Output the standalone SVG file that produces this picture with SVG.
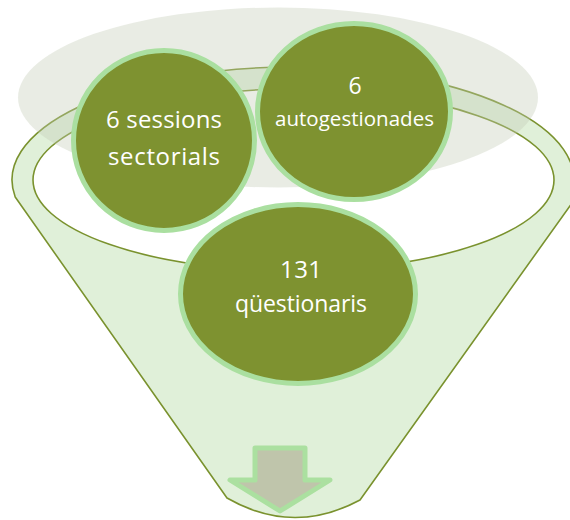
<svg xmlns="http://www.w3.org/2000/svg" width="570" height="520" viewBox="0 0 570 520">
  <style>
    .funnel { fill: #e0f0d9; stroke: #7a922e; stroke-width: 1.6; stroke-linejoin: round; }
    .mouth { fill: #ffffff; stroke: #7a922e; stroke-width: 1.6; }
    .halo { fill: #c3c9b3; fill-opacity: 0.36; }
    .node { fill: #7e9230; stroke: #aadfa0; stroke-width: 5; }
    .lbl { fill: #ffffff; font-family: "Open Sans", "Liberation Sans", sans-serif; text-anchor: middle; }
    .arrow { fill: #bfc5ab; stroke: #abe0a0; stroke-width: 5; stroke-linejoin: round; }
  </style>
  <g id="funnel">
    <path class="funnel" d="M15.2,197 L227,498 Q293,536 360,500 L572,203 L571.5,195 A281,113 0 1 0 15.2,197 Z"/>
    <ellipse class="mouth" cx="293.5" cy="180" rx="260.5" ry="91"/>
  </g>
  <g id="backdrop">
    <ellipse class="halo" cx="278" cy="97.5" rx="260" ry="90"/>
  </g>
  <g id="arrow">
    <polygon class="arrow" points="255,448 305,448 305,480 330,480 280,511 230,480 255,480"/>
  </g>
  <g id="node-sessions">
    <ellipse class="node" cx="164" cy="140.5" rx="90.5" ry="90"/>
    <text class="lbl" x="164" y="128" font-size="24" textLength="116">6 sessions</text>
    <text class="lbl" x="164" y="165" font-size="24" textLength="112">sectorials</text>
  </g>
  <g id="node-autogestionades">
    <ellipse class="node" cx="354" cy="111.5" rx="96.5" ry="88"/>
    <text class="lbl" x="355" y="94" font-size="23">6</text>
    <text class="lbl" x="354.5" y="126" font-size="20.5" textLength="159">autogestionades</text>
  </g>
  <g id="node-questionaris">
    <ellipse class="node" cx="298" cy="294" rx="117.5" ry="89.5"/>
    <text class="lbl" x="301" y="278" font-size="24" textLength="42">131</text>
    <text class="lbl" x="301" y="312" font-size="23" textLength="132">qüestionaris</text>
  </g>
  <g id="connectors"/>
</svg>
